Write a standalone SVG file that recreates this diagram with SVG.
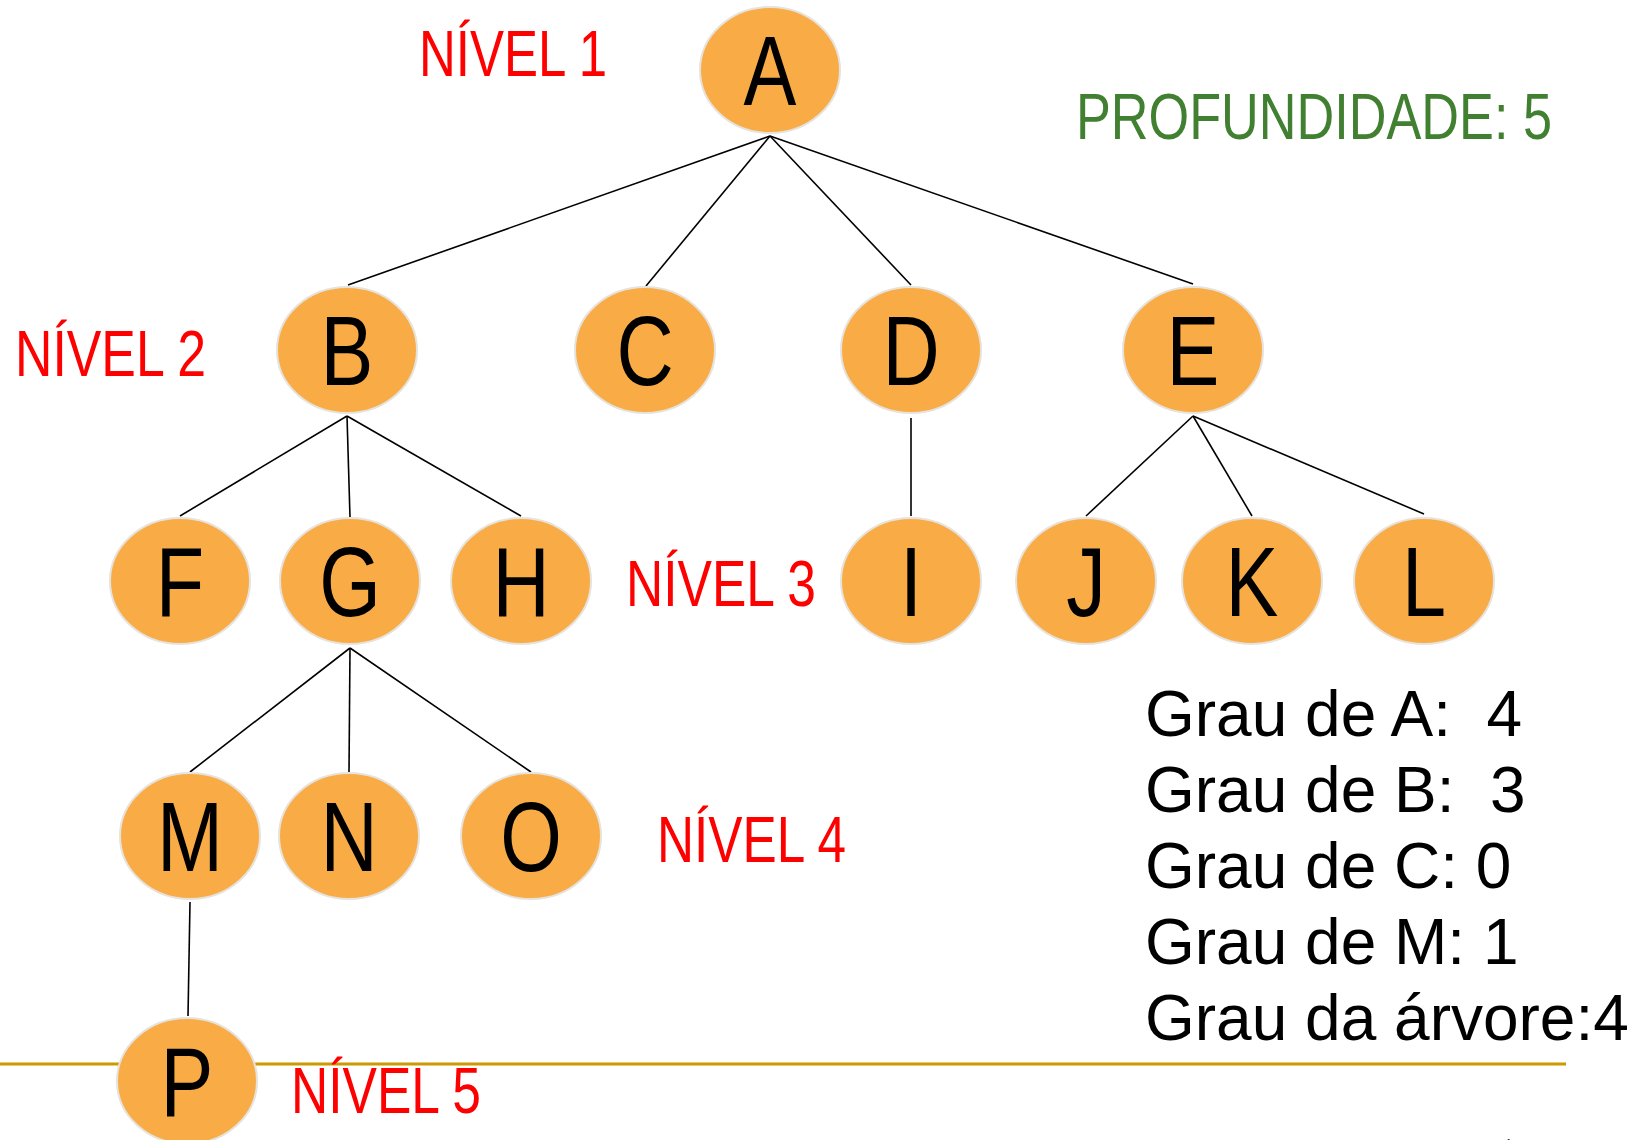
<svg xmlns="http://www.w3.org/2000/svg" width="1637" height="1140" viewBox="0 0 1637 1140">
<style>
.node ellipse{fill:#F9AC45;stroke:#E6E2DC;stroke-width:2}
.node text{font-family:"Liberation Sans",Arial,sans-serif;font-size:99px;fill:#000;text-anchor:middle}
.edges line{stroke:#000;stroke-width:1.6}
.lvl{font-family:"Liberation Sans",Arial,sans-serif;font-size:65px;fill:#FF0000}
.grau{font-family:"Liberation Sans",Arial,sans-serif;font-size:64px;fill:#000}
</style>
<rect width="1637" height="1140" fill="#fff"/>
<line x1="0" y1="1064" x2="1566" y2="1064" stroke="#CC9900" stroke-width="3"/>
<g class="edges">
<line x1="770" y1="136" x2="348" y2="285"/>
<line x1="770" y1="136" x2="646" y2="286"/>
<line x1="770" y1="136" x2="911" y2="285"/>
<line x1="770" y1="136" x2="1193" y2="284"/>
<line x1="347" y1="416" x2="180" y2="516"/>
<line x1="347" y1="416" x2="350" y2="517"/>
<line x1="347" y1="416" x2="521" y2="516"/>
<line x1="911" y1="418" x2="911" y2="516"/>
<line x1="1193" y1="416" x2="1086" y2="516"/>
<line x1="1193" y1="416" x2="1252" y2="516"/>
<line x1="1193" y1="416" x2="1424" y2="514"/>
<line x1="350" y1="648" x2="190" y2="772"/>
<line x1="350" y1="648" x2="349" y2="773"/>
<line x1="350" y1="648" x2="531" y2="772"/>
<line x1="190" y1="902" x2="188" y2="1016"/>
</g>
<g id="node-A" class="node"><ellipse cx="770" cy="70" rx="70" ry="63"/><text transform="translate(770 0) scale(0.8 1)" x="0" y="105">A</text></g>
<g id="node-B" class="node"><ellipse cx="347" cy="350" rx="70" ry="63"/><text transform="translate(347 0) scale(0.8 1)" x="0" y="385">B</text></g>
<g id="node-C" class="node"><ellipse cx="645" cy="350" rx="70" ry="63"/><text transform="translate(645 0) scale(0.8 1)" x="0" y="385">C</text></g>
<g id="node-D" class="node"><ellipse cx="911" cy="350" rx="70" ry="63"/><text transform="translate(911 0) scale(0.8 1)" x="0" y="385">D</text></g>
<g id="node-E" class="node"><ellipse cx="1193" cy="350" rx="70" ry="63"/><text transform="translate(1193 0) scale(0.8 1)" x="0" y="385">E</text></g>
<g id="node-F" class="node"><ellipse cx="180" cy="581" rx="70" ry="63"/><text transform="translate(180 0) scale(0.8 1)" x="0" y="616">F</text></g>
<g id="node-G" class="node"><ellipse cx="350" cy="581" rx="70" ry="63"/><text transform="translate(350 0) scale(0.8 1)" x="0" y="616">G</text></g>
<g id="node-H" class="node"><ellipse cx="521" cy="581" rx="70" ry="63"/><text transform="translate(521 0) scale(0.8 1)" x="0" y="616">H</text></g>
<g id="node-I" class="node"><ellipse cx="911" cy="581" rx="70" ry="63"/><text transform="translate(911 0) scale(0.8 1)" x="0" y="616">I</text></g>
<g id="node-J" class="node"><ellipse cx="1086" cy="581" rx="70" ry="63"/><text transform="translate(1086 0) scale(0.8 1)" x="0" y="616">J</text></g>
<g id="node-K" class="node"><ellipse cx="1252" cy="581" rx="70" ry="63"/><text transform="translate(1252 0) scale(0.8 1)" x="0" y="616">K</text></g>
<g id="node-L" class="node"><ellipse cx="1424" cy="581" rx="70" ry="63"/><text transform="translate(1424 0) scale(0.8 1)" x="0" y="616">L</text></g>
<g id="node-M" class="node"><ellipse cx="190" cy="836" rx="70" ry="63"/><text transform="translate(190 0) scale(0.8 1)" x="0" y="871">M</text></g>
<g id="node-N" class="node"><ellipse cx="349" cy="836" rx="70" ry="63"/><text transform="translate(349 0) scale(0.8 1)" x="0" y="871">N</text></g>
<g id="node-O" class="node"><ellipse cx="531" cy="836" rx="70" ry="63"/><text transform="translate(531 0) scale(0.8 1)" x="0" y="871">O</text></g>
<g id="node-P" class="node"><ellipse cx="187" cy="1081" rx="70" ry="63"/><text transform="translate(187 0) scale(0.8 1)" x="0" y="1116">P</text></g>
<text class="lvl" x="419" y="76" textLength="188" lengthAdjust="spacingAndGlyphs">NÍVEL 1</text>
<text class="lvl" x="15" y="376" textLength="191" lengthAdjust="spacingAndGlyphs">NÍVEL 2</text>
<text class="lvl" x="626" y="606" textLength="190" lengthAdjust="spacingAndGlyphs">NÍVEL 3</text>
<text class="lvl" x="657" y="862" textLength="189" lengthAdjust="spacingAndGlyphs">NÍVEL 4</text>
<text class="lvl" x="291" y="1113" textLength="190" lengthAdjust="spacingAndGlyphs">NÍVEL 5</text>
<text x="1076" y="139" font-family="Liberation Sans, Arial, sans-serif" font-size="64" fill="#417F31" textLength="476" lengthAdjust="spacingAndGlyphs">PROFUNDIDADE: 5</text>
<text class="grau" x="1145" y="736" xml:space="preserve">Grau de A:  4</text>
<text class="grau" x="1145" y="812" xml:space="preserve">Grau de B:  3</text>
<text class="grau" x="1145" y="888">Grau de C: 0</text>
<text class="grau" x="1145" y="964">Grau de M: 1</text>
<text class="grau" x="1145" y="1040">Grau da árvore:4</text>
<text x="1473" y="1155" font-family="Liberation Sans, Arial, sans-serif" font-size="22" fill="#333">10 / 40</text>
</svg>
